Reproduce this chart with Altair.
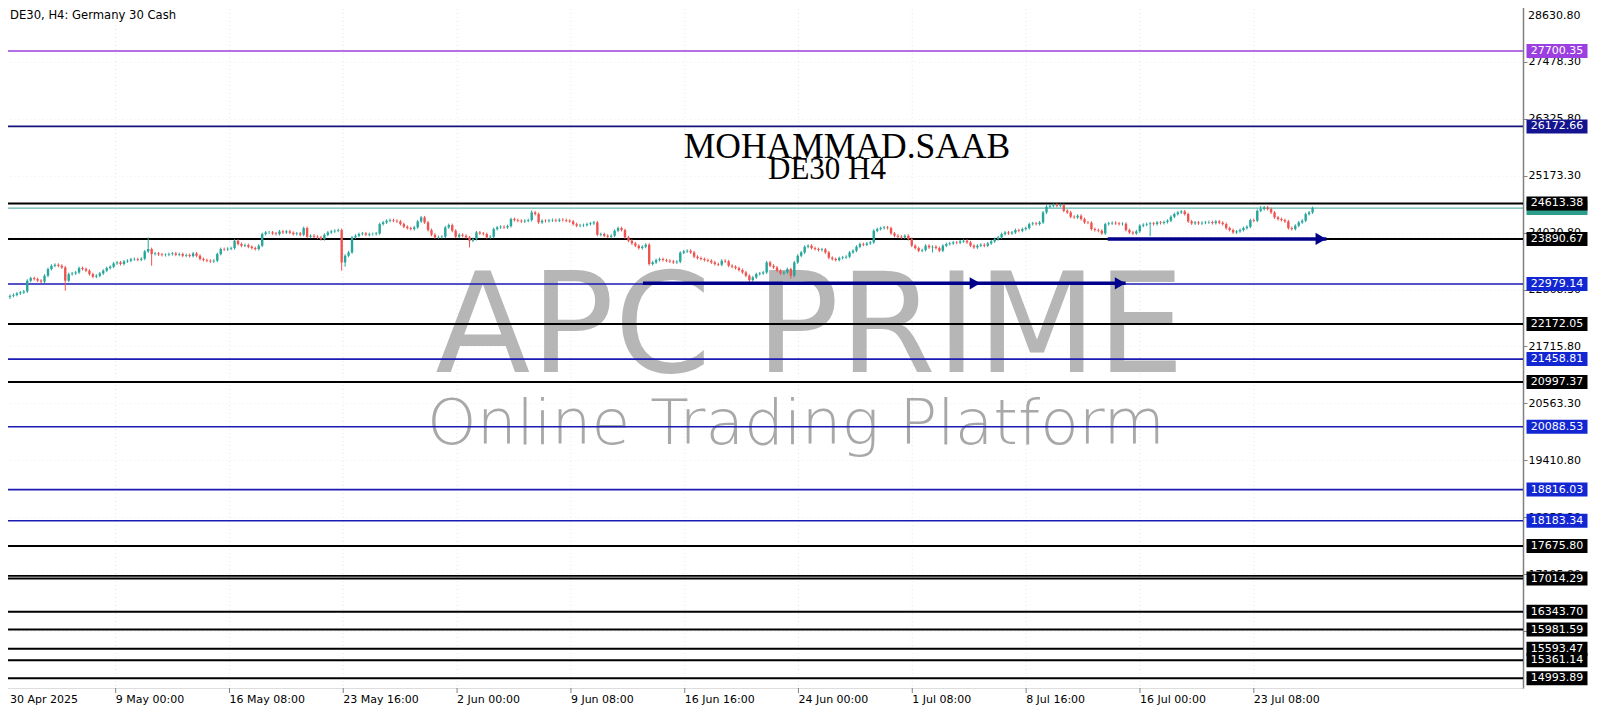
import altair as alt
import pandas as pd

# ---------------- data ----------------
closes = [
    22740, 22760, 22790, 22810, 22830,
    23047, 23100, 23080, 23050, 23030,
    23148, 23283, 23350, 23370, 23350,
    23316, 23047, 23180, 23195, 23215,
    23303, 23283, 23250, 23180, 23128,
    23148, 23195, 23250, 23303, 23330,
    23398, 23418, 23385, 23438, 23452,
    23480, 23486, 23472, 23493, 23640,
    23688, 23587, 23600, 23580, 23567,
    23573, 23587, 23600, 23573, 23587,
    23553, 23567, 23546, 23600, 23553,
    23486, 23466, 23452, 23438, 23452,
    23587, 23688, 23681, 23695, 23708,
    23857, 23790, 23756, 23769, 23735,
    23708, 23688, 23756, 23992, 24025,
    24025, 24005, 23992, 24046, 24025,
    24046, 24019, 23992, 24005, 23978,
    24113, 23938, 23958, 23938, 23925,
    23890, 23978, 24025, 24046, 24059,
    24073, 23418, 23553, 23620, 23925,
    23958, 23992, 24005, 23978, 23992,
    23992, 24005, 24194, 24228, 24262,
    24275, 24262, 24248, 24194, 24140,
    24113, 24093, 24127, 24248, 24330,
    24228, 24073, 23978, 23925, 23931,
    23938, 24127, 24174, 24059, 23938,
    23978, 23958, 23925, 23857, 23890,
    24025, 24005, 23992, 23925, 23938,
    24093, 24127, 24140, 24127, 24154,
    24296, 24275, 24262, 24248, 24262,
    24275, 24430, 24397, 24228, 24262,
    24255, 24268, 24275, 24262, 24282,
    24275, 24262, 24248, 24194, 24161,
    24168, 24174, 24194, 24208, 24228,
    23978, 23992, 23958, 23938, 23958,
    24059, 24113, 24073, 23925, 23857,
    23803, 23756, 23708, 23735, 23776,
    23384, 23418, 23466, 23486, 23466,
    23452, 23438, 23418, 23432, 23614,
    23641, 23654, 23620, 23533, 23506,
    23486, 23466, 23452, 23418, 23384,
    23371, 23452, 23438, 23351, 23330,
    23303, 23263, 23215, 23148, 23060,
    23114, 23181, 23195, 23215, 23418,
    23350, 23316, 23250, 23195, 23215,
    23283, 23148, 23418, 23553, 23620,
    23735, 23756, 23708, 23688, 23668,
    23681, 23620, 23512, 23486, 23466,
    23506, 23519, 23533, 23620, 23654,
    23735, 23790, 23776, 23803, 23823,
    24059, 24093, 24113, 24127, 24113,
    24005, 23958, 23938, 23925, 23958,
    23890, 23756, 23708, 23654, 23668,
    23756, 23722, 23735, 23708, 23654,
    23756, 23790, 23803, 23823, 23816,
    23843, 23857, 23823, 23756, 23722,
    23756, 23776, 23756, 23803, 23843,
    23890, 23925, 23992, 24025, 24005,
    24025, 24073, 24059, 24093, 24113,
    24194, 24208, 24194, 24228, 24430,
    24545, 24565, 24586, 24565, 24579,
    24464, 24430, 24343, 24330, 24363,
    24296, 24228, 24221, 24093, 24073,
    24059, 24005, 24194, 24208, 24221,
    24208, 24194, 24201, 24073, 24025,
    24005, 24046, 24161, 24181, 24194,
    24208, 24194, 24228, 24215, 24235,
    24262, 24343, 24397, 24430, 24451,
    24397, 24248, 24208, 24228, 24208,
    24221, 24228, 24235, 24215, 24248,
    24221, 24194, 24113, 24073, 24025,
    24046, 24073, 24113, 24140, 24275,
    24262, 24464, 24498, 24532, 24498,
    24430, 24330, 24296, 24275, 24248,
    24113, 24093, 24161, 24228, 24262,
    24397, 24430, 24518,
]
first_open = 22720
wick_high = {40: 23925, 151: 24472, 302: 24610, 362: 24560}
wick_low = {0: 22676, 16: 22844, 41: 23350, 96: 23250, 97: 23330, 133: 23720,
            214: 22995, 226: 23090, 267: 23620, 330: 23950}
default_wick = 30

level_prices = [27700.35, 26172.66, 24613.38, 23890.67, 22979.14, 22172.05,
                21458.81, 20997.37, 20088.53, 18816.03, 18183.34, 17675.80,
                17014.29, 16343.70, 15981.59, 15593.47, 15361.14, 14993.89]
level_kinds = ["purple", "navy", "black", "black", "blue", "black",
               "blue", "black", "blue", "blue", "blue", "black",
               "black", "black", "black", "black", "black", "black"]
extra_line_prices = [17068.0]
bid_price = 24518.0

y_tick_values = [28630.80, 27478.30, 26325.80, 25173.30, 24020.80, 22868.30,
                 21715.80, 20563.30, 19410.80, 18258.30, 17105.80, 15953.30]
top_tick_label = "28630.80"

first_date_label = "30 Apr 2025"
first_date_pos = 0.0
date_labels = ["9 May 00:00", "16 May 08:00", "23 May 16:00", "2 Jun 00:00",
               "9 Jun 08:00", "16 Jun 16:00", "24 Jun 00:00", "1 Jul 08:00",
               "8 Jul 16:00", "16 Jul 00:00", "23 Jul 08:00"]
date_pos = [30.6, 63.53, 96.46, 129.4, 162.35, 195.3, 228.2, 261.15,
            294.1, 327.05, 360.0]

arrow_starts = [183.2, 317.7]
arrow_ends = [322.9, 381.0]
arrow_prices = [22995.0, 23893.0]
arrow_head_pos = [279.3, 321.3, 379.4]
arrow_head_prices = [22995.0, 22995.0, 23893.0]

header_text = "DE30, H4:  Germany 30 Cash"
title_line1 = "MOHAMMAD.SAAB"
title_line2 = "DE30 H4"
wm_line1 = "APC PRIME"
wm_line2 = "Online Trading Platform"

# ---------------- styling ----------------
W, H = 1522, 687
X_DOM = [-1.15, 436.46]
Y_DOM = [14797, 28713]
UP, DOWN = "#26a69a", "#ef5350"
kind_line = {"purple": "#9b3fd9", "navy": "#14147a", "blue": "#1a1ab4", "black": "#000000"}
kind_box = {"purple": "#9b3fe0", "navy": "#141490", "blue": "#1226d2", "black": "#000000"}
kind_w = {"purple": 1.5, "navy": 1.6, "blue": 1.6, "black": 2.0}
FONT = "DejaVu Sans"

xs = alt.Scale(domain=X_DOM, nice=False, zero=False)
ys = alt.Scale(domain=Y_DOM, nice=False, zero=False)
yax = alt.Axis(
    orient="right", values=y_tick_values, format=".2f", labelFont=FONT,
    labelFontSize=11, labelColor="#000000", tickColor="#808080", tickSize=4,
    domainColor="#808080", domainWidth=1.5, labelPadding=1, grid=True,
    gridColor="#efefef", gridDash=[1, 3], title=None, labelBaseline="middle",
    labelOverlap=False, labelFlush=False,
    labelExpr="datum.value > 28600 ? '' : datum.label")


def Y(field):
    return alt.Y(field, scale=ys, axis=yax, title=None)


def X(field):
    return alt.X(field, scale=xs, axis=None)


# ---------------- tables ----------------
rows = []
prev = first_open
for i, c in enumerate(closes):
    o = prev
    hi = wick_high.get(i, max(o, c) + default_wick)
    lo = wick_low.get(i, min(o, c) - default_wick)
    rows.append({"i": i, "o": o, "c": c, "h": hi, "l": lo,
                 "col": UP if c >= o else DOWN})
    prev = c
candles = pd.DataFrame(rows)

levels = pd.DataFrame({
    "price": level_prices,
    "lc": [kind_line[k] for k in level_kinds],
    "bc": [kind_box[k] for k in level_kinds],
    "w": [kind_w[k] for k in level_kinds],
    "order": list(range(len(level_prices))),
})
extra = pd.DataFrame({"price": extra_line_prices})
bid = pd.DataFrame({"price": [bid_price]})
dates = pd.DataFrame({"pos": date_pos, "label": date_labels})
first_date = pd.DataFrame({"pos": [first_date_pos], "label": [first_date_label]})
arrows = pd.DataFrame({"x": arrow_starts, "x2": arrow_ends, "price": arrow_prices})
heads = pd.DataFrame({"x": arrow_head_pos, "price": arrow_head_prices})
yt = pd.DataFrame({"price": y_tick_values})

# ---------------- layers ----------------
yaxis_layer = alt.Chart(yt).mark_point(opacity=0).encode(y=Y("price:Q"), x=alt.value(0))
top_label = alt.Chart(pd.DataFrame({"t": [top_tick_label]})).mark_text(
    font=FONT, fontSize=11, color="#000000", align="left", baseline="middle").encode(
    text="t:N", x=alt.value(W + 5), y=alt.value(15))

vgrid = alt.Chart(dates).mark_rule(color="#e6e6e6", strokeDash=[1, 3], strokeWidth=1).encode(
    x=X("pos:Q"), y=alt.value(0), y2=alt.value(H))

wm1 = alt.Chart(pd.DataFrame({"t": [wm_line1]})).mark_text(
    font="DejaVu Sans", fontSize=139, color="#b6b6b6",
    align="center", baseline="alphabetic").encode(
    text="t:N", x=alt.value(809), y=alt.value(371))
wm2 = alt.Chart(pd.DataFrame({"t": [wm_line2]})).mark_text(
    font="DejaVu Sans", fontSize=63, fontWeight=200, color="#a8a8a8",
    align="center", baseline="alphabetic").encode(
    text="t:N", x=alt.value(795), y=alt.value(443))

level_lines = alt.Chart(levels).mark_rule().encode(
    y=Y("price:Q"), x=alt.value(0), x2=alt.value(W),
    color=alt.Color("lc:N", scale=None),
    strokeWidth=alt.StrokeWidth("w:Q", scale=None))
extra_lines = alt.Chart(extra).mark_rule(color="#000000", strokeWidth=1.6).encode(
    y=Y("price:Q"), x=alt.value(0), x2=alt.value(W))
bid_line = alt.Chart(bid).mark_rule(color="#3aa59c", strokeWidth=1).encode(
    y=Y("price:Q"), x=alt.value(0), x2=alt.value(W))

wicks = alt.Chart(candles).mark_rule(strokeWidth=1).encode(
    x=X("i:Q"), y=Y("l:Q"), y2="h:Q", color=alt.Color("col:N", scale=None))
bodies = alt.Chart(candles).mark_bar(size=2.4).encode(
    x=X("i:Q"), y=Y("o:Q"), y2="c:Q", color=alt.Color("col:N", scale=None))

arrow_lines = alt.Chart(arrows).mark_rule(color="#00008b", strokeWidth=3.5).encode(
    x=X("x:Q"), x2="x2:Q", y=Y("price:Q"))
arrow_heads = alt.Chart(heads).mark_point(shape="triangle-right", filled=True,
                                           size=150, color="#00008b", opacity=1).encode(
    x=X("x:Q"), y=Y("price:Q"))

bid_box = alt.Chart(bid).mark_tick(orient="horizontal", size=61, thickness=14,
                                   color="#2e9e8c", opacity=1).encode(
    y=Y("price:Q"), x=alt.value(W + 34))
boxes = alt.Chart(levels).mark_tick(orient="horizontal", size=61, thickness=14,
                                     opacity=1).encode(
    y=Y("price:Q"), x=alt.value(W + 34),
    color=alt.Color("bc:N", scale=None), order="order:Q")
box_text = alt.Chart(levels).mark_text(font=FONT, fontSize=11, color="#ffffff",
                                        align="center", baseline="middle").encode(
    y=Y("price:Q"), x=alt.value(W + 34),
    text=alt.Text("price:Q", format=".2f"), order="order:Q")

date_ticks = alt.Chart(dates).mark_rule(color="#808080", strokeWidth=1).encode(
    x=X("pos:Q"), y=alt.value(H), y2=alt.value(H + 5))
date_text = alt.Chart(dates).mark_text(font=FONT, fontSize=11, color="#000000",
                                        align="left", baseline="middle").encode(
    x=X("pos:Q"), y=alt.value(H + 12), text="label:N")
first_date_text = alt.Chart(first_date).mark_text(font=FONT, fontSize=11, color="#000000",
                                                   align="left", baseline="middle").encode(
    x=X("pos:Q"), y=alt.value(H + 12), text="label:N")

header = alt.Chart(pd.DataFrame({"t": [header_text]})).mark_text(
    font=FONT, fontSize=11.6, color="#000000", align="left", baseline="middle").encode(
    text="t:N", x=alt.value(9), y=alt.value(15))
t1 = alt.Chart(pd.DataFrame({"t": [title_line1]})).mark_text(
    font="Liberation Serif", fontSize=35.5, color="#000000", align="center",
    baseline="alphabetic").encode(text="t:N", x=alt.value(846), y=alt.value(157))
t2 = alt.Chart(pd.DataFrame({"t": [title_line2]})).mark_text(
    font="Liberation Serif", fontSize=31, color="#000000", align="center",
    baseline="alphabetic").encode(text="t:N", x=alt.value(826), y=alt.value(178))

chart = alt.layer(
    yaxis_layer, vgrid, wm1, wm2, level_lines, extra_lines, bid_line,
    wicks, bodies, arrow_lines, arrow_heads, bid_box, boxes, box_text, top_label,
    date_ticks, date_text, first_date_text, header, t1, t2,
).properties(
    width=W, height=H,
    padding={"left": -7, "top": -7, "right": 69, "bottom": 20},
    autosize=alt.AutoSizeParams(type="none"),
).configure_view(
    stroke="#404040", strokeWidth=1.2
).configure(background="#ffffff")

chart.save("out.html", embed_options={"renderer": "svg", "actions": False})
